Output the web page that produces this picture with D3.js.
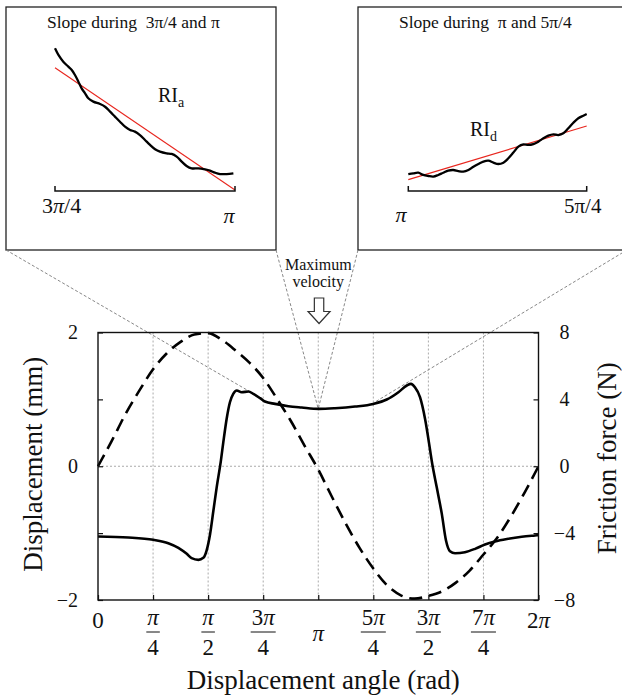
<!DOCTYPE html>
<html>
<head>
<meta charset="utf-8">
<script src="https://cdn.jsdelivr.net/npm/d3@7"></script>
<style>
  html, body { margin: 0; padding: 0; background: #fff; }
  svg { display: block; }
  svg text { font-family: "Liberation Serif", "DejaVu Serif", "Times New Roman", serif; }
</style>
</head>
<body>
<svg id="chart" width="622" height="695"></svg>
<script>
// angles are in units of pi
const dispAngle = [0, 0.0625, 0.125, 0.1875, 0.25, 0.3125, 0.375, 0.4375, 0.5, 0.5625, 0.625, 0.6875, 0.75, 0.8125, 0.875, 0.9375,
  1, 1.0625, 1.125, 1.1875, 1.25, 1.3125, 1.375, 1.4375, 1.5, 1.5625, 1.625, 1.6875, 1.75, 1.8125, 1.875, 1.9375, 2];
const dispMm = [0, 0.38, 0.78, 1.13, 1.45, 1.69, 1.86, 1.97, 1.99, 1.89, 1.73, 1.55, 1.32, 1.01, 0.68, 0.31,
  -0.05, -0.46, -0.86, -1.22, -1.53, -1.78, -1.93, -1.98, -1.94, -1.87, -1.74, -1.56, -1.32, -1.07, -0.75, -0.39, 0];

const frictionAngle = [0, 0.138, 0.251, 0.319, 0.365, 0.403, 0.425, 0.456, 0.478, 0.493, 0.509, 0.524, 0.539, 0.558,
  0.569, 0.584, 0.599, 0.614, 0.630, 0.652, 0.683, 0.705, 0.736, 0.758, 0.804, 0.864, 0.925, 1.003, 1.076, 1.167,
  1.250, 1.311, 1.364, 1.402, 1.421, 1.439, 1.462, 1.485, 1.507, 1.515, 1.538, 1.561, 1.580, 1.598, 1.621, 1.666,
  1.712, 1.757, 1.802, 1.863, 1.924, 1.984, 2.0];
const frictionN = [-4.20, -4.26, -4.40, -4.60, -4.88, -5.24, -5.50, -5.60, -5.48, -5.04, -4.05, -2.65, -1.25, 0.34,
  1.44, 2.83, 3.83, 4.33, 4.53, 4.43, 4.47, 4.33, 4.07, 3.87, 3.73, 3.59, 3.51, 3.43, 3.47, 3.57,
  3.73, 3.99, 4.43, 4.83, 4.93, 4.72, 4.13, 2.83, 1.04, 0.34, -1.26, -2.85, -4.44, -5.08, -5.20, -5.14,
  -4.94, -4.68, -4.50, -4.34, -4.22, -4.14, -4.12];

const xTickAngle = [0, 0.25, 0.5, 0.75, 1, 1.25, 1.5, 1.75, 2];
const xTickNum = ['0', 'π', 'π', '3π', 'π', '5π', '3π', '7π', '2π'];
const xTickDen = ['', '4', '2', '4', '', '4', '2', '4', ''];
const leftTicks = [-2, -1, 0, 1, 2];
const rightTicks = [-8, -4, 0, 4, 8];

// inset curves: t = fraction of the zoomed interval, v = relative level
const insetAT = [0, 0.019, 0.046, 0.074, 0.093, 0.111, 0.130, 0.148, 0.167, 0.185, 0.213, 0.25, 0.278, 0.306, 0.333,
  0.361, 0.389, 0.417, 0.444, 0.472, 0.5, 0.528, 0.556, 0.583, 0.620, 0.648, 0.676, 0.704, 0.731, 0.759, 0.796,
  0.833, 0.861, 0.889, 0.917, 0.954, 0.991];
const insetAV = [0.951, 0.907, 0.862, 0.829, 0.807, 0.773, 0.729, 0.684, 0.651, 0.618, 0.596, 0.58, 0.562, 0.529, 0.496,
  0.462, 0.429, 0.407, 0.396, 0.373, 0.34, 0.307, 0.278, 0.262, 0.251, 0.247, 0.229, 0.196, 0.167, 0.151, 0.151,
  0.144, 0.136, 0.122, 0.113, 0.113, 0.118];
const insetAFitT = [0, 1];
const insetAFitV = [0.822, 0.007];

const insetDT = [0, 0.028, 0.056, 0.084, 0.112, 0.140, 0.168, 0.196, 0.224, 0.252, 0.280, 0.308, 0.337, 0.365, 0.393,
  0.421, 0.449, 0.477, 0.505, 0.533, 0.561, 0.589, 0.617, 0.645, 0.673, 0.701, 0.729, 0.757, 0.785, 0.813, 0.841,
  0.869, 0.897, 0.925, 0.953, 0.981, 1.0];
const insetDV = [0.113, 0.118, 0.122, 0.107, 0.1, 0.096, 0.107, 0.122, 0.136, 0.14, 0.133, 0.129, 0.14, 0.162, 0.18,
  0.196, 0.202, 0.189, 0.18, 0.189, 0.218, 0.256, 0.296, 0.311, 0.307, 0.313, 0.329, 0.351, 0.369, 0.378, 0.373,
  0.385, 0.418, 0.455, 0.485, 0.502, 0.513];
const insetDFitT = [0, 1];
const insetDFitV = [0.076, 0.433];

const SERIF = '"Liberation Serif", "DejaVu Serif", "Times New Roman", serif';
const svg = d3.select('#chart').attr('font-family', SERIF);

// main plot
const plot = {left: 98, right: 538.5, top: 332.5, bottom: 600};
const x = d3.scaleLinear().domain([0, 2 * Math.PI]).range([plot.left, plot.right]);
const yL = d3.scaleLinear().domain([-2, 2]).range([plot.bottom, plot.top]);
const yR = d3.scaleLinear().domain([-8, 8]).range([plot.bottom, plot.top]);
const minus = d => (d < 0 ? '\u2212' : '') + Math.abs(d);

// grid
svg.append('g').selectAll('line')
  .data(xTickAngle.slice(1, -1))
  .join('line')
  .attr('x1', d => x(d * Math.PI)).attr('x2', d => x(d * Math.PI))
  .attr('y1', plot.top).attr('y2', plot.bottom)
  .attr('stroke', '#aaa').attr('stroke-width', 1).attr('stroke-dasharray', '2,2');
svg.append('line')
  .attr('x1', plot.left).attr('x2', plot.right)
  .attr('y1', yL(0)).attr('y2', yL(0))
  .attr('stroke', '#aaa').attr('stroke-width', 1).attr('stroke-dasharray', '2,2');

// inset boxes
const leftBox = {x: 6, y: 7, w: 270, h: 243};
const rightBox = {x: 358, y: 7, w: 269, h: 243};
[leftBox, rightBox].forEach(b => {
  svg.append('rect')
    .attr('x', b.x).attr('y', b.y).attr('width', b.w).attr('height', b.h)
    .attr('fill', 'none').attr('stroke', '#222').attr('stroke-width', 1.3);
});

// connector lines
const connectors = [
  {x0: leftBox.x, a: 0.75, f: 4.0},
  {x0: leftBox.x + leftBox.w, a: 1, f: 3.43},
  {x0: rightBox.x, a: 1, f: 3.43},
  {x0: rightBox.x + rightBox.w, a: 1.25, f: 3.78},
];
svg.append('g').selectAll('line')
  .data(connectors)
  .join('line')
  .attr('x1', d => d.x0).attr('y1', leftBox.y + leftBox.h)
  .attr('x2', d => x(d.a * Math.PI)).attr('y2', d => yR(d.f))
  .attr('stroke', '#888').attr('stroke-width', 1).attr('stroke-dasharray', '3,2');

// curves
const dispData = dispAngle.map((a, i) => ({a: a * Math.PI, v: dispMm[i]}));
const fricData = frictionAngle.map((a, i) => ({a: a * Math.PI, v: frictionN[i]}));

svg.append('path')
  .datum(dispData)
  .attr('fill', 'none').attr('stroke', '#000').attr('stroke-width', 2.6)
  .attr('stroke-dasharray', '13,7')
  .attr('d', d3.line().curve(d3.curveMonotoneX).x(d => x(d.a)).y(d => yL(d.v)));

svg.append('path')
  .datum(fricData)
  .attr('fill', 'none').attr('stroke', '#000').attr('stroke-width', 2.6)
  .attr('stroke-linejoin', 'round')
  .attr('d', d3.line().curve(d3.curveMonotoneX).x(d => x(d.a)).y(d => yR(d.v)));

// frame
svg.append('rect')
  .attr('x', plot.left).attr('y', plot.top)
  .attr('width', plot.right - plot.left).attr('height', plot.bottom - plot.top)
  .attr('fill', 'none').attr('stroke', '#111').attr('stroke-width', 1.4);

// axes
const axisL = svg.append('g')
  .attr('transform', `translate(${plot.left},0)`)
  .call(d3.axisLeft(yL).tickValues(leftTicks).tickSizeInner(-5).tickSizeOuter(0).tickPadding(20)
    .tickFormat(d => Math.abs(d) === 1 ? '' : minus(d)));
const axisR = svg.append('g')
  .attr('transform', `translate(${plot.right},0)`)
  .call(d3.axisRight(yR).tickValues(rightTicks).tickSizeInner(-5).tickSizeOuter(0).tickPadding(26)
    .tickFormat(minus));
axisR.selectAll('text').attr('text-anchor', 'middle');
const axisB = svg.append('g')
  .attr('transform', `translate(0,${plot.bottom})`)
  .call(d3.axisBottom(x).tickValues(xTickAngle.map(a => a * Math.PI)).tickSizeInner(-5).tickSizeOuter(0)
    .tickFormat(''));
[axisL, axisR, axisB].forEach(g => {
  g.attr('font-family', SERIF).attr('font-size', 20);
  g.select('.domain').remove();
  g.selectAll('line').attr('stroke', '#111').attr('stroke-width', 1.2);
  g.selectAll('text').attr('fill', '#111');
});

// x tick labels with fractions
function piText(sel, str) {
  str.split(/(π)/).filter(s => s).forEach(s => {
    sel.append('tspan').attr('font-style', s === 'π' ? 'italic' : 'normal').text(s);
  });
}
const xLab = svg.append('g').attr('font-size', 23).attr('fill', '#111').attr('text-anchor', 'middle');
xTickAngle.forEach((a, i) => {
  const cx = x(a * Math.PI);
  if (xTickDen[i]) {
    const num = xLab.append('text').attr('x', cx).attr('y', 625);
    piText(num, xTickNum[i]);
    const w = num.node().getComputedTextLength();
    xLab.append('line').attr('x1', cx - w / 2 - 1).attr('x2', cx + w / 2 + 1)
      .attr('y1', 632).attr('y2', 632).attr('stroke', '#111').attr('stroke-width', 1);
    xLab.append('text').attr('x', cx).attr('y', 655).text(xTickDen[i]);
  } else {
    const t = xLab.append('text').attr('x', cx).attr('y', xTickNum[i] === 'π' ? 641 : 628);
    piText(t, xTickNum[i]);
  }
});

// axis titles
svg.append('text')
  .attr('x', (plot.left + plot.right) / 2 + 5).attr('y', 689)
  .attr('text-anchor', 'middle').attr('font-size', 27).attr('fill', '#111')
  .text('Displacement angle (rad)');
svg.append('text')
  .attr('transform', `translate(42,${(plot.top + plot.bottom) / 2 - 2}) rotate(-90)`)
  .attr('text-anchor', 'middle').attr('font-size', 27).attr('fill', '#111')
  .text('Displacement (mm)');
svg.append('text')
  .attr('transform', `translate(616,${(plot.top + plot.bottom) / 2 - 8}) rotate(-90)`)
  .attr('text-anchor', 'middle').attr('font-size', 27).attr('fill', '#111')
  .text('Friction force (N)');

// maximum velocity annotation
const cxPi = x(Math.PI);
svg.append('text').attr('x', cxPi).attr('y', 270).attr('text-anchor', 'middle')
  .attr('font-size', 16).attr('fill', '#111').text('Maximum');
svg.append('text').attr('x', cxPi).attr('y', 287).attr('text-anchor', 'middle')
  .attr('font-size', 16).attr('fill', '#111').text('velocity');
const ax = cxPi + 0.8;
svg.append('polygon')
  .attr('points', [[ax - 4.7, 298], [ax + 4.7, 298], [ax + 4.7, 311.5], [ax + 11, 311.5], [ax, 323.5],
    [ax - 11, 311.5], [ax - 4.7, 311.5]].map(p => p.join(',')).join(' '))
  .attr('fill', '#fff').attr('stroke', '#333').attr('stroke-width', 1.2);

// insets
const yi = d3.scaleLinear().domain([0, 1]).range([191, 41]);
function drawInset(opt) {
  const xi = d3.scaleLinear().domain([0, 1]).range(opt.range);
  const line = d3.line().curve(d3.curveCatmullRom).x(d => xi(d.t)).y(d => yi(d.v));
  const curve = opt.t.map((t, i) => ({t, v: opt.v[i]}));
  const fit = opt.fitT.map((t, i) => ({t, v: opt.fitV[i]}));
  svg.append('path').datum(fit).attr('fill', 'none').attr('stroke', '#e8261e').attr('stroke-width', 1.1)
    .attr('d', d3.line().x(d => xi(d.t)).y(d => yi(d.v)));
  svg.append('path').datum(curve).attr('fill', 'none').attr('stroke', '#000').attr('stroke-width', 2.3)
    .attr('d', line);
  const y0 = yi(0);
  svg.append('path')
    .attr('d', `M${xi(0)},${y0 - 5}V${y0}H${xi(1)}V${y0 - 5}`)
    .attr('fill', 'none').attr('stroke', '#111').attr('stroke-width', 1.5);
}
drawInset({range: [55, 235], t: insetAT, v: insetAV, fitT: insetAFitT, fitV: insetAFitV});
drawInset({range: [408.3, 586.7], t: insetDT, v: insetDV, fitT: insetDFitT, fitV: insetDFitV});

// inset texts
svg.append('text').attr('x', 47).attr('y', 28).attr('font-size', 17.5).attr('fill', '#111')
  .attr('xml:space', 'preserve').text('Slope during  3π/4 and π');
svg.append('text').attr('x', 399).attr('y', 28).attr('font-size', 17.5).attr('fill', '#111')
  .attr('xml:space', 'preserve').text('Slope during  π and 5π/4');

const l1 = svg.append('text').attr('x', 42).attr('y', 213).attr('font-size', 22).attr('fill', '#111');
piText(l1, '3π/4');
svg.append('text').attr('x', 229).attr('y', 223).attr('font-size', 22).attr('fill', '#111')
  .attr('text-anchor', 'middle').attr('font-style', 'italic').text('π');
svg.append('text').attr('x', 401).attr('y', 222).attr('font-size', 22).attr('fill', '#111')
  .attr('text-anchor', 'middle').attr('font-style', 'italic').text('π');
svg.append('text').attr('x', 564).attr('y', 213).attr('font-size', 21).attr('fill', '#111').text('5π/4');

function riLabel(xp, yp, sub) {
  const t = svg.append('text').attr('x', xp).attr('y', yp).attr('font-size', 20).attr('fill', '#111');
  t.append('tspan').text('RI');
  t.append('tspan').attr('font-size', 14).attr('dy', 5).text(sub);
}
riLabel(158, 102, 'a');
riLabel(470, 136, 'd');
</script>
</body>
</html>
